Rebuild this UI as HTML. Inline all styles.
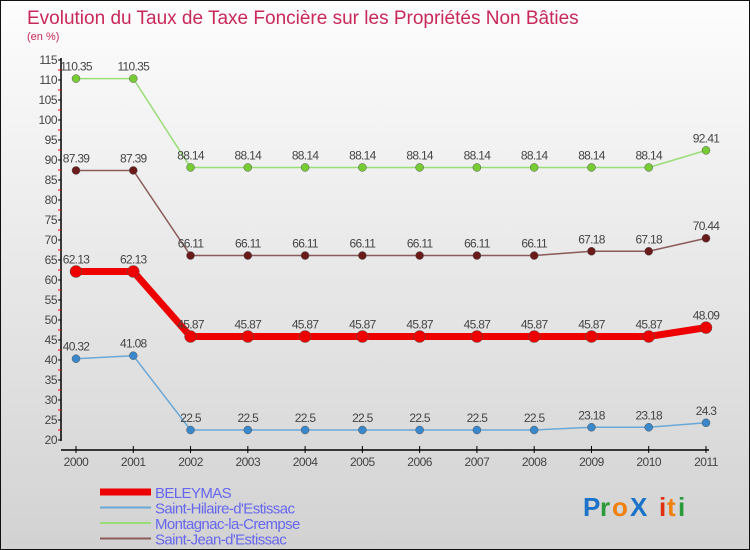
<!DOCTYPE html>
<html><head><meta charset="utf-8"><style>
body{margin:0;width:750px;height:550px;overflow:hidden}
svg{display:block}
text{font-family:"Liberation Sans",sans-serif}
</style></head><body>
<svg id="c" width="750" height="550" xmlns="http://www.w3.org/2000/svg">
<defs><linearGradient id="bg" x1="0" y1="0" x2="0" y2="1"><stop offset="0" stop-color="#fdfdfd"/><stop offset="1" stop-color="#d2d2d2"/></linearGradient></defs>
<rect x="0.5" y="0.5" width="749" height="549" fill="url(#bg)" stroke="#111"/>
<text x="27" y="24" font-size="19" fill="#c8285a">Evolution du Taux de Taxe Foncière sur les Propriétés Non Bâties</text>
<text x="27" y="40" font-size="11" fill="#c8285a">(en %)</text>
<g id="axes"></g><g id="series"></g><g id="legend"></g>
<g font-size="26" font-weight="bold">
<text x="583" y="516" fill="#1a73c8">P</text><text x="600" y="516" fill="#2a9a3a">r</text><text x="612" y="516" fill="#f08010">o</text><text x="630" y="516" fill="#1a73c8">X</text><text x="659" y="516" fill="#e03010">i</text><text x="667" y="516" fill="#f08010">t</text><text x="678" y="516" fill="#2a9a3a">i</text>
</g>
</svg>
<script>
const years=["2000","2001","2002","2003","2004","2005","2006","2007","2008","2009","2010","2011"];
const yTicks=[20,25,30,35,40,45,50,55,60,65,70,75,80,85,90,95,100,105,110,115];
const beleymas=[62.13,62.13,45.87,45.87,45.87,45.87,45.87,45.87,45.87,45.87,45.87,48.09];
const hilaire=[40.32,41.08,22.5,22.5,22.5,22.5,22.5,22.5,22.5,23.18,23.18,24.3];
const montagnac=[110.35,110.35,88.14,88.14,88.14,88.14,88.14,88.14,88.14,88.14,88.14,92.41];
const jean=[87.39,87.39,66.11,66.11,66.11,66.11,66.11,66.11,66.11,67.18,67.18,70.44];
const NS="http://www.w3.org/2000/svg";
const X=i=>76+i*(630/11);
const Y=v=>440-(v-20)*4;
function mk(p,t,a){const e=document.createElementNS(NS,t);for(const k in a)e.setAttribute(k,a[k]);p.appendChild(e);return e;}
const ax=document.getElementById('axes');
let l=mk(ax,'line',{x1:61,y1:58,x2:61,y2:441,stroke:'#000','stroke-width':1.5});


l=mk(ax,'line',{x1:61,y1:450,x2:709,y2:450,stroke:'#000','stroke-width':1.5});


yTicks.forEach(v=>{
 mk(ax,'line',{x1:58,y1:Y(v),x2:61,y2:Y(v),stroke:'#000'});
 if(v<115)mk(ax,'line',{x1:58,y1:Y(v+2.5),x2:61,y2:Y(v+2.5),stroke:'#e00'});
 const t=mk(ax,'text',{x:57,y:Y(v)+4,'font-size':12,'text-anchor':'end',fill:'#444','letter-spacing':'-0.5'});
 t.textContent=v;
 
 
});
years.forEach((y,i)=>{
 mk(ax,'line',{x1:X(i),y1:446,x2:X(i),y2:453,stroke:'#000'});
 const t=mk(ax,'text',{x:X(i),y:466,'font-size':12,'text-anchor':'middle',fill:'#444','letter-spacing':'-0.5'});
 t.textContent=y;
 
 
});
const sg=document.getElementById('series');
function series(name,vals,color,w,r,dot){
 const g=mk(sg,'g',{});
 
 
 mk(g,'polyline',{points:vals.map((v,i)=>X(i)+','+Y(v)).join(' '),fill:'none',stroke:color,'stroke-width':w});
 vals.forEach((v,i)=>{
  const c=mk(g,'circle',{cx:X(i),cy:Y(v),r:r,fill:dot,stroke:'#555','stroke-width':0.5});
  
  
  const t=mk(g,'text',{x:X(i),y:Y(v)-8,'font-size':12,'text-anchor':'middle',fill:'#444','letter-spacing':'-0.7'});
  t.textContent=v;
  
  
 });
}
series('series-montagnac',montagnac,'#99dd77',1.5,4,'#77cc33');
series('series-saint-jean',jean,'#8b5a5a',1.5,4,'#6b1a1a');
series('series-beleymas',beleymas,'#ee0000',7,6,'#ee0000');
series('series-saint-hilaire',hilaire,'#6aa8d8',1.5,4,'#3a88cc');
const lg=document.getElementById('legend');
[["BELEYMAS","#ee0000",7],["Saint-Hilaire-d'Estissac","#6aa8d8",2],["Montagnac-la-Crempse","#99dd77",2],["Saint-Jean-d'Estissac","#8b5a5a",2]].forEach((d,i)=>{
 const y=492+i*15.5;
 const g=mk(lg,'g',{});
 
 
 mk(g,'line',{x1:100,y1:y,x2:151,y2:y,stroke:d[1],'stroke-width':d[2]});
 const t=mk(g,'text',{x:155,y:y+6,'font-size':15,fill:'#6666ee','letter-spacing':'-0.6'});
 t.textContent=d[0];
});
</script>
</body></html>
